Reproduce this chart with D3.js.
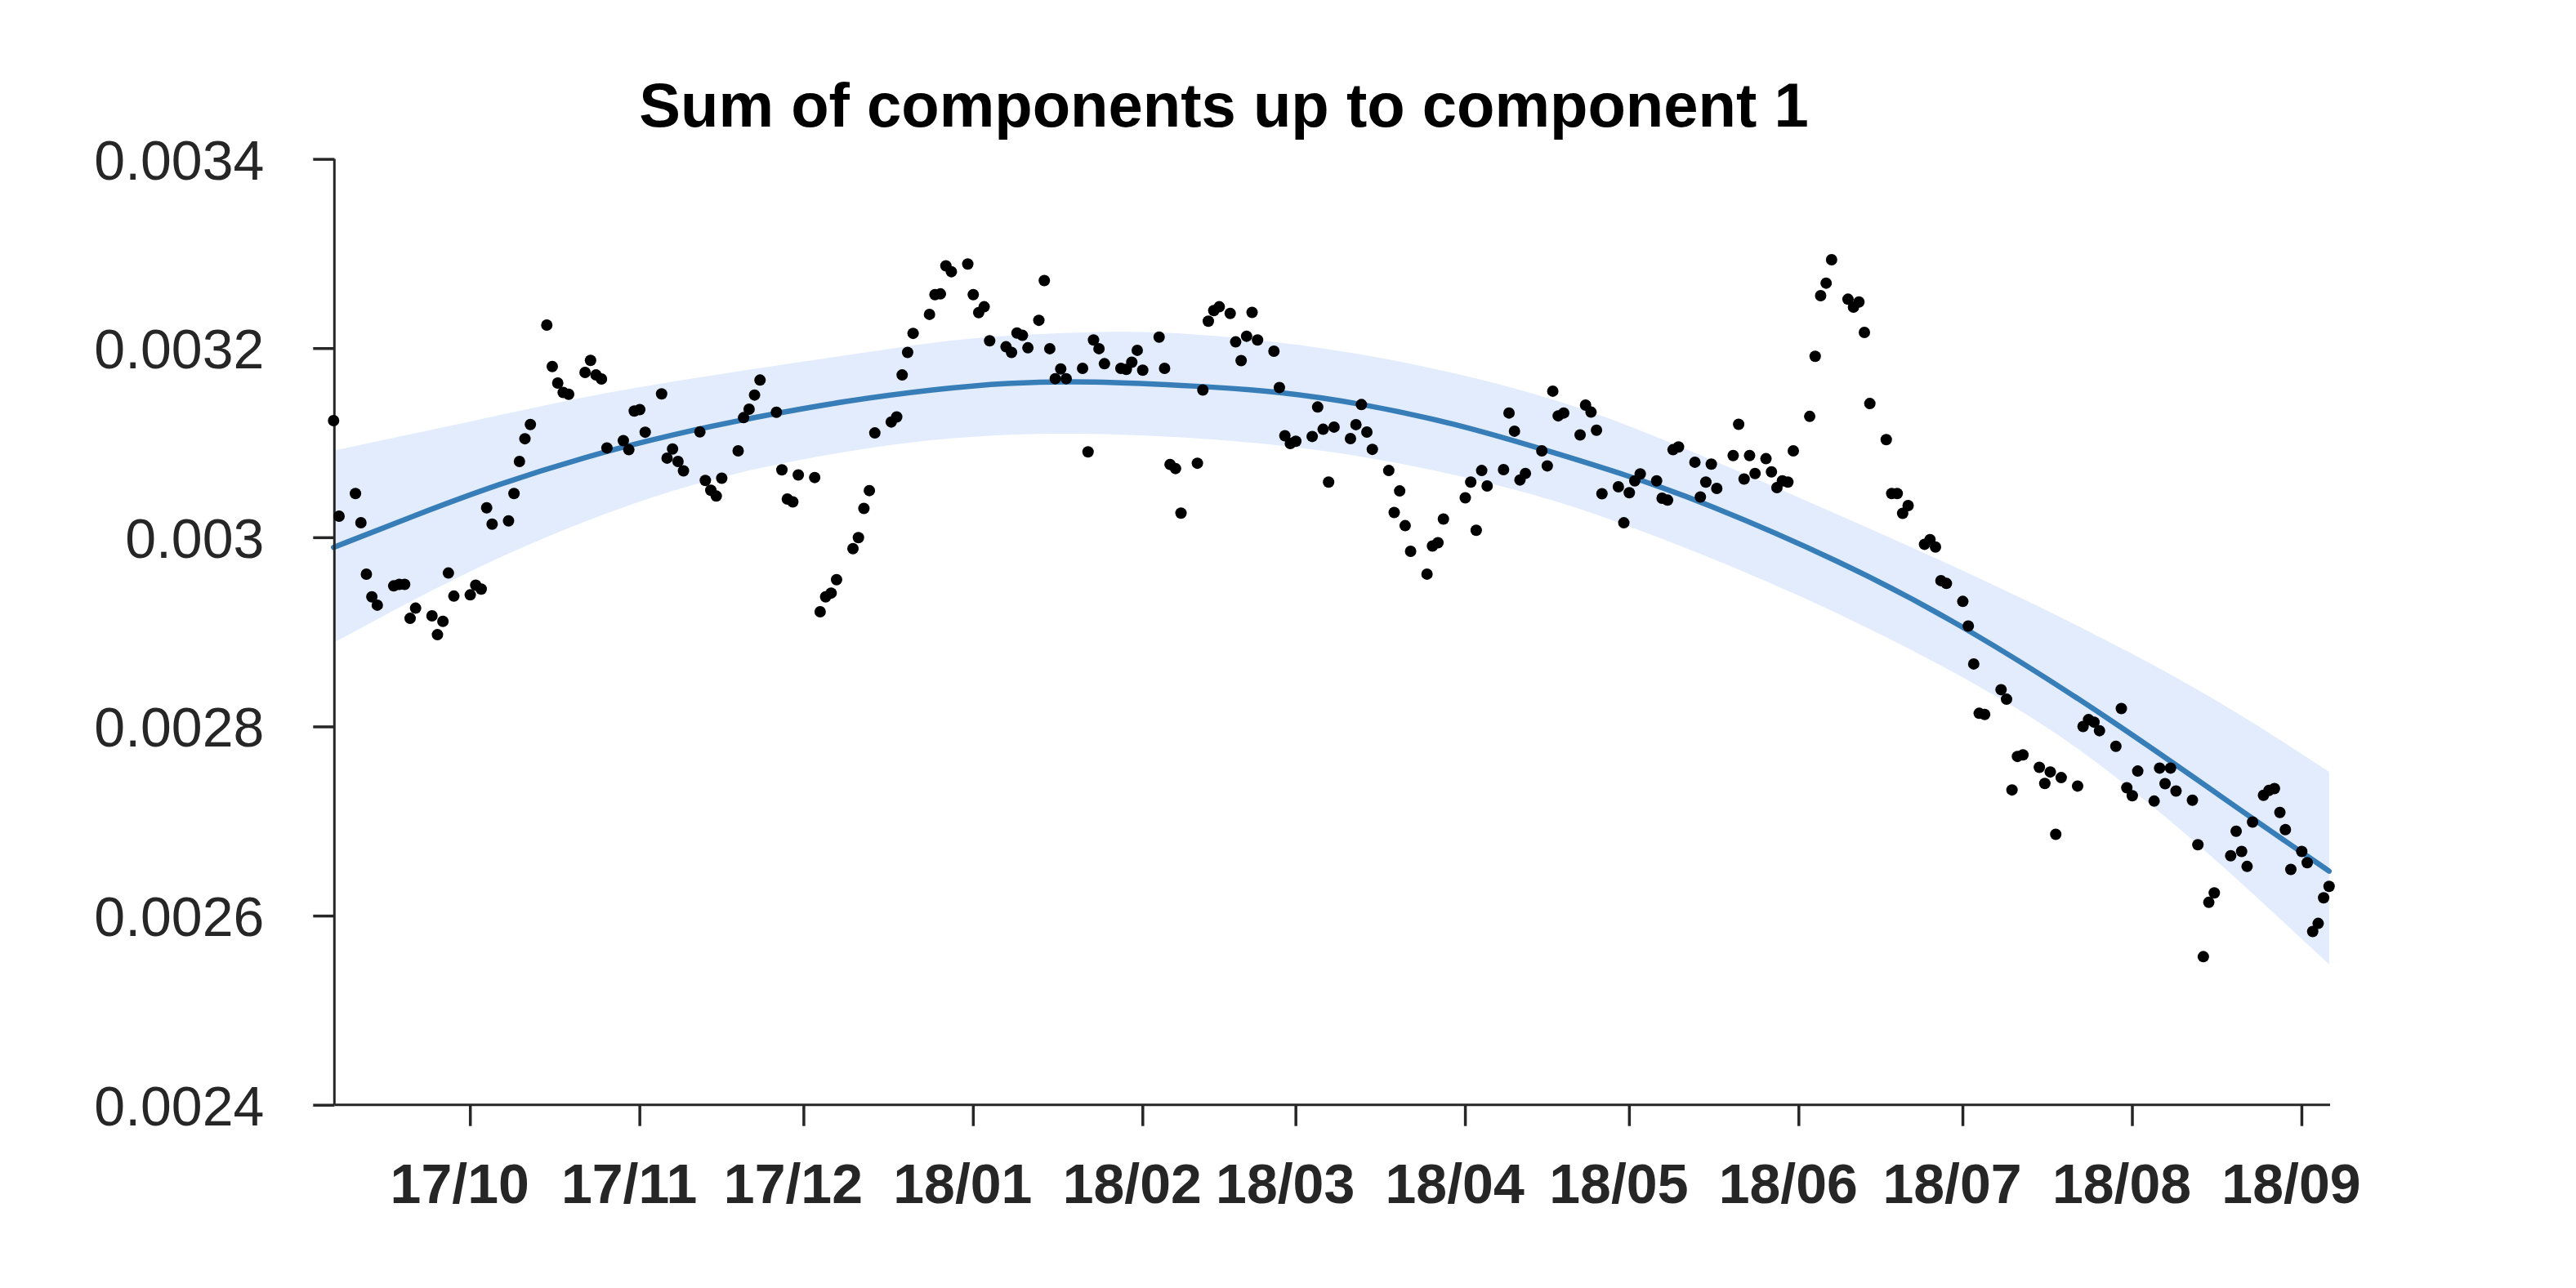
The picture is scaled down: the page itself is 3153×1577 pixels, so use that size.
<!DOCTYPE html>
<html>
<head>
<meta charset="utf-8">
<script src="https://cdn.jsdelivr.net/npm/d3@7"></script>
<style>
  html, body { margin: 0; padding: 0; background: #ffffff; }
  svg { display: block; }
  text { font-family: "Liberation Sans", Arial, Helvetica, sans-serif; }
</style>
</head>
<body>
<svg id="chart" width="3153" height="1577"></svg>
<script>
// ---------------- data ----------------
const chartTitle = "Sum of components up to component 1";
const startDay = "2017-09-07";   // day offset 0
const endDay = "2018-09-07";

// observations: [day offset from startDay, value]
const observations = [
  [0,0.0031234],[1,0.0030223],[4,0.0030463],[5,0.0030154],[6,0.0029610],[7,0.0029371],[8,0.0029283],
  [11,0.0029486],[12,0.0029502],[13,0.0029502],[14,0.0029143],[15,0.0029251],
  [18,0.0029170],[19,0.0028970],[20,0.0029112],[21,0.0029622],[22,0.0029378],
  [25,0.0029391],[26,0.0029494],[27,0.0029452],[28,0.0030312],[29,0.0030139],
  [32,0.0030173],[33,0.0030463],[34,0.0030802],[35,0.0031042],[36,0.0031192],
  [39,0.0032244],[40,0.0031805],[41,0.0031631],[42,0.0031531],[43,0.0031512],
  [46,0.0031743],[47,0.0031870],[48,0.0031716],[49,0.0031674],[50,0.0030945],
  [53,0.0031022],[54,0.0030926],[55,0.0031335],[56,0.0031350],[57,0.0031111],
  [60,0.0031516],[61,0.0030837],[62,0.0030933],[63,0.0030802],[64,0.0030702],
  [67,0.0031114],[68,0.0030601],[69,0.0030497],[70,0.0030436],[71,0.0030624],
  [74,0.0030914],[75,0.0031265],[76,0.0031354],[77,0.0031504],[78,0.0031662],
  [81,0.0031322],[82,0.0030713],[83,0.0030405],[84,0.0030374],[85,0.0030659],
  [88,0.0030632],[89,0.0029213],[90,0.0029371],[91,0.0029410],[92,0.0029552],
  [95,0.0029880],[96,0.0029996],[97,0.0030305],[98,0.0030494],[99,0.0031103],
  [102,0.0031219],[103,0.0031272],[104,0.0031716],[105,0.0031955],[106,0.0032156],
  [109,0.0032357],[110,0.0032565],[111,0.0032573],[112,0.0032870],[113,0.0032808],
  [116,0.0032889],[117,0.0032565],[118,0.0032376],[119,0.0032437],[120,0.0032077],
  [123,0.0032014],[124,0.0031954],[125,0.0032159],[126,0.0032135],[127,0.0032003],
  [129,0.0032294],[130,0.0032714],[131,0.0031994],[132,0.0031677],[133,0.0031779],[134,0.0031677],
  [137,0.0031786],[138,0.0030903],[139,0.0032086],[140,0.0031994],[141,0.0031835],
  [144,0.0031786],[145,0.0031775],[146,0.0031851],[147,0.0031977],[148,0.0031766],
  [151,0.0032116],[152,0.0031786],[153,0.0030770],[154,0.0030727],[155,0.0030255],
  [158,0.0030783],[159,0.0031557],[160,0.0032285],[161,0.0032397],[162,0.0032437],
  [164,0.0032367],[165,0.0032066],[166,0.0031868],[167,0.0032126],[168,0.0032377],[169,0.0032086],
  [172,0.0031967],[173,0.0031583],[174,0.0031074],[175,0.0030992],[176,0.0031015],
  [179,0.0031066],[180,0.0031377],[181,0.0031142],[182,0.0030583],[183,0.0031165],
  [186,0.0031043],[187,0.0031191],[188,0.0031403],[189,0.0031112],[190,0.0030930],
  [193,0.0030706],[194,0.0030262],[195,0.0030490],[196,0.0030123],[197,0.0029852],
  [200,0.0029611],[201,0.0029908],[202,0.0029942],[203,0.0030193],
  [207,0.0030418],[208,0.0030583],[209,0.0030074],[210,0.0030706],[211,0.0030543],
  [214,0.0030715],[215,0.0031314],[216,0.0031122],[217,0.0030606],[218,0.0030675],
  [221,0.0030914],[222,0.0030755],[223,0.0031545],[224,0.0031284],[225,0.0031314],
  [228,0.0031082],[229,0.0031397],[230,0.0031323],[231,0.0031132],[232,0.0030460],
  [235,0.0030534],[236,0.0030153],[237,0.0030471],[238,0.0030596],[239,0.0030670],
  [242,0.0030596],[243,0.0030413],[244,0.0030393],[245,0.0030926],[246,0.0030955],
  [249,0.0030794],[250,0.0030426],[251,0.0030583],[252,0.0030773],[253,0.0030517],
  [256,0.0030864],[257,0.0031195],[258,0.0030616],[259,0.0030864],[260,0.0030674],
  [262,0.0030831],[263,0.0030691],[264,0.0030525],[265,0.0030596],[266,0.0030583],[267,0.0030914],
  [270,0.0031278],[271,0.0031913],[272,0.0032555],[273,0.0032687],[274,0.0032935],
  [277,0.0032517],[278,0.0032434],[279,0.0032488],[280,0.0032166],[281,0.0031414],
  [284,0.0031033],[285,0.0030463],[286,0.0030463],[287,0.0030253],[288,0.0030335],
  [291,0.0029926],[292,0.0029975],[293,0.0029897],[294,0.0029542],[295,0.0029512],
  [298,0.0029322],[299,0.0029062],[300,0.0028661],[301,0.0028139],[302,0.0028127],
  [305,0.0028389],[306,0.0028288],[307,0.0027329],[308,0.0027683],[309,0.0027700],
  [312,0.0027568],[313,0.0027398],[314,0.0027519],[315,0.0026860],[316,0.0027459],
  [319,0.0027370],[320,0.0028000],[321,0.0028072],[322,0.0028046],[323,0.0027955],
  [326,0.0027790],[327,0.0028190],[328,0.0027352],[329,0.0027268],[330,0.0027528],
  [333,0.0027211],[334,0.0027560],[335,0.0027395],[336,0.0027560],[337,0.0027318],
  [340,0.0027220],[341,0.0026750],[342,0.0025566],[343,0.0026140],[344,0.0026240],
  [347,0.0026633],[348,0.0026892],[349,0.0026678],[350,0.0026520],[351,0.0026989],
  [353,0.0027272],[354,0.0027324],[355,0.0027344],[356,0.0027091],[357,0.0026909],[358,0.0026488],
  [360,0.0026678],[361,0.0026560],[362,0.0025832],[363,0.0025918],[364,0.0026189],[365,0.0026309]
];

// fitted curve (read at points along the blue line)
const fitDays   = [0, 15, 30, 46, 62, 78, 94, 110, 123, 138, 159, 173, 188, 205, 221, 238, 250, 275, 299, 326, 351, 360, 365];
const fitValues = [0.0029893, 0.0030236, 0.0030560, 0.0030851, 0.0031090, 0.0031280, 0.0031446, 0.0031565,
                   0.0031635, 0.0031655, 0.0031597, 0.0031540, 0.0031415, 0.0031205, 0.0030935, 0.0030630,
                   0.0030384, 0.0029769, 0.0029043, 0.0028044, 0.0027024, 0.0026670, 0.0026470];

// confidence band edges
const upperDays   = [0, 28.6, 43.1, 55.5, 77.9, 103.4, 118.3, 142.0, 155.7, 173.7, 197.4, 221.2, 237.9, 266.5, 295.2, 319.8, 344.4, 365];
const upperValues = [0.0030915, 0.0031270, 0.0031448, 0.0031589, 0.0031790, 0.0032009, 0.0032125, 0.0032185, 0.0032161,
                     0.0032067, 0.0031851, 0.0031506, 0.0031171, 0.0030463, 0.0029729, 0.0029054, 0.0028301, 0.0027520];
const lowerDays   = [0, 22.5, 46.2, 70.0, 97.6, 118.3, 142.0, 173.7, 197.4, 221.2, 237.9, 270.6, 301.8, 319.8, 341.1, 365];
const lowerValues = [0.0028884, 0.0029590, 0.0030195, 0.0030655, 0.0030958, 0.0031087, 0.0031111, 0.0030992, 0.0030771,
                     0.0030439, 0.0030109, 0.0029348, 0.0028420, 0.0027765, 0.0026773, 0.0025484];

const yTickValues = [0.0024, 0.0026, 0.0028, 0.0030, 0.0032, 0.0034];
const yTickLabels = ["0.0024", "0.0026", "0.0028", "0.003", "0.0032", "0.0034"];
const xTickMonths = ["2017-10-01","2017-11-01","2017-12-01","2018-01-01","2018-02-01","2018-03-01",
                     "2018-04-01","2018-05-01","2018-06-01","2018-07-01","2018-08-01","2018-09-01"];

// ---------------- drawing ----------------
const svg = d3.select("#chart");
const axisColor = "#262626";
const parseDay = d3.utcParse("%Y-%m-%d");
const t0 = parseDay(startDay), t1 = parseDay(endDay);
const dayToDate = d => new Date(t0.getTime() + d * 86400000);

const plotLeft = 409.3, plotRight = 2852, plotTop = 194.6, plotBottom = 1352.7;

const x = d3.scaleUtc().domain([t0, t1]).range([408.3, 2850.8]);
const y = d3.scaleLinear().domain([0.0024, 0.0034]).range([plotBottom, plotTop]);

svg.append("rect").attr("width", 3153).attr("height", 1577).attr("fill", "#ffffff");

// band
const edge = d3.line().x(p => x(dayToDate(p[0]))).y(p => y(p[1])).curve(d3.curveBasis);
const upperPts = upperDays.map((d, i) => [d, upperValues[i]]);
const lowerPts = lowerDays.map((d, i) => [d, lowerValues[i]]).reverse();
const bandPath = edge(upperPts) + "L" + edge(lowerPts).slice(1) + "Z";
svg.append("path").attr("d", bandPath).attr("fill", "#e3ecfd").attr("stroke", "none");

// fitted line
const fitPts = fitDays.map((d, i) => [d, fitValues[i]]);
svg.append("path").attr("d", edge(fitPts))
  .attr("fill", "none").attr("stroke", "#377eb8").attr("stroke-width", 6.5).attr("stroke-linecap", "round");

// axes
const yAxis = d3.axisLeft(y).tickValues(yTickValues)
  .tickFormat((d, i) => yTickLabels[i]).tickSize(26).tickSizeOuter(0).tickPadding(60);
const gy = svg.append("g").attr("transform", `translate(${plotLeft},0)`).call(yAxis);
gy.select(".domain").remove();
gy.selectAll(".tick line").attr("stroke", axisColor).attr("stroke-width", 3.5);
gy.selectAll(".tick text").attr("fill", axisColor).attr("font-size", 68).attr("dy", "0.36em")
  .style("font-family", '"Liberation Sans", Arial, Helvetica, sans-serif');

const xAxis = d3.axisBottom(x).tickValues(xTickMonths.map(parseDay))
  .tickFormat(d3.utcFormat("%y/%m")).tickSize(26).tickSizeOuter(0).tickPadding(46);
const gx = svg.append("g").attr("transform", `translate(6.3,${plotBottom})`).call(xAxis);
gx.select(".domain").remove();
gx.selectAll(".tick line").attr("stroke", axisColor).attr("stroke-width", 3.5);
gx.selectAll(".tick text").attr("fill", axisColor).attr("font-size", 68).attr("font-weight", "bold")
  .attr("dx", -13).style("font-family", '"Liberation Sans", Arial, Helvetica, sans-serif');

svg.append("line").attr("x1", plotLeft).attr("x2", plotRight).attr("y1", plotBottom).attr("y2", plotBottom)
  .attr("stroke", axisColor).attr("stroke-width", 3);
svg.append("line").attr("x1", plotLeft).attr("x2", plotLeft).attr("y1", plotTop).attr("y2", plotBottom)
  .attr("stroke", axisColor).attr("stroke-width", 3);

// dots
svg.append("g").selectAll("circle").data(observations).join("circle")
  .attr("cx", d => x(dayToDate(d[0]))).attr("cy", d => y(d[1])).attr("r", 7).attr("fill", "#000000");

// title
svg.append("text").attr("x", 1498).attr("y", 155).attr("text-anchor", "middle")
  .attr("font-size", 76).attr("font-weight", "bold").attr("fill", "#000000").text(chartTitle);
</script>
</body>
</html>
